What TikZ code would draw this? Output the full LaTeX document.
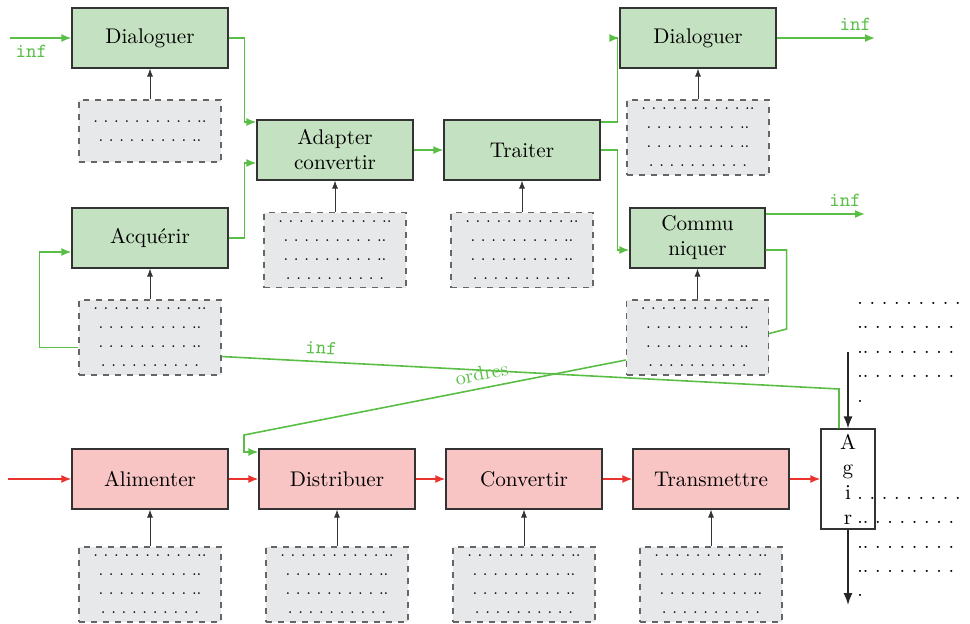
\documentclass[tikz,border=0pt]{standalone}
\usetikzlibrary{arrows.meta,calc}

\definecolor{vertfond}{RGB}{196,226,193}
\definecolor{vertfil}{RGB}{90,190,70}
\definecolor{rougefond}{RGB}{248,196,196}
\definecolor{rougefil}{RGB}{235,50,45}
\definecolor{grisfond}{RGB}{231,232,234}

\newcommand{\pointsdeux}{. . . . . . . . . . ..\\ . . . . . . . . . ..}
\newcommand{\pointsquatre}{. . . . . . . . . . ..\\ . . . . . . . . . ..\\ . . . . . . . . . ..\\ . . . . . . . . . .}

\begin{document}
\begin{tikzpicture}[x=0.5pt,y=-0.5pt,
  bloc/.style={draw=black!80,semithick,minimum width=78pt,minimum height=30pt,align=center,inner sep=1pt,
    font=\fontsize{10.6}{12.5}\selectfont},
  info/.style={bloc,fill=vertfond},
  energie/.style={bloc,fill=rougefond},
  support/.style={draw=black!60,dashed,semithick,fill=grisfond,minimum width=71pt,minimum height=37.5pt,
    font=\footnotesize\frenchspacing,align=center,inner sep=0pt},
  finfo/.style={vertfil,thick,-{Latex[length=5pt,width=4pt]}},
  fenergie/.style={rougefil,thick,-{Latex[length=5pt,width=4pt]}},
  fsupport/.style={black!80,-{Latex[length=4pt,width=3pt]}},
  lbl/.style={vertfil,font=\ttfamily}]
\useasboundingbox (0,0) rectangle (970,623);

% chaine d'information
\node[info] (dial1) at (150,38) {Dialoguer};
\node[info] (acq) at (150,238) {Acquérir};
\node[info] (adapt) at (335,150) {Adapter\\convertir};
\node[info] (trait) at (522,150) {Traiter};
\node[info] (dial2) at (698,38) {Dialoguer};
\node[info,minimum width=67.5pt] (comm) at (697.5,238) {Commu\\niquer};

% chaine d'energie
\node[energie] (alim) at (150,479) {Alimenter};
\node[energie] (dist) at (337,479) {Distribuer};
\node[energie] (conv) at (524,479) {Convertir};
\node[energie] (trans) at (711,479) {Transmettre};
\node[bloc,fill=white,minimum width=27pt,minimum height=50pt] (agir) at (848,479) {A\\g\\i\\r};

% supports
\node[support,minimum height=31pt] (dial1-sup) at (150,131) {\pointsdeux};
\node[support] (acq-sup) at (150,337.5) {\pointsquatre};
\node[support] (adapt-sup) at (335,250) {\pointsquatre};
\node[support] (trait-sup) at (522,250) {\pointsquatre};
\node[support] (dial2-sup) at (698,137.5) {\pointsquatre};
\node[support] (comm-sup) at (697.5,337.5) {\pointsquatre};
\node[support] (alim-sup) at (150,584.5) {\pointsquatre};
\node[support] (dist-sup) at (337,584.5) {\pointsquatre};
\node[support] (conv-sup) at (524,584.5) {\pointsquatre};
\node[support] (trans-sup) at (711,584.5) {\pointsquatre};

\foreach \b in {dial1,acq,adapt,trait,dial2,comm,alim,dist,conv,trans}
  \draw[fsupport] (\b-sup) -- (\b);

% liaisons information
\coordinate (e-inf) at (10,38);
\coordinate (s-dial2) at (875,38);
\coordinate (s-comm) at (865,214);
\coordinate (c-agir) at (839,389);
\coordinate (c-dist) at (244,435);
\draw[finfo] (e-inf) -- node[lbl,below,pos=0.35] {inf} (dial1.west);
\draw[finfo] (dial1.east) -- ++(16,0) |- ($(adapt.west)+(0,-28)$);
\draw[finfo] (acq.east) -- ++(16,0) |- ($(adapt.west)+(0,13)$);
\draw[finfo] (adapt) -- (trait);
\draw[finfo] ($(trait.east)+(0,-28)$) -- ++(17,0) |- (dial2.west);
\draw[finfo] (trait.east) -- ++(17,0) |- ($(comm.west)+(0,12)$);
\draw[finfo] (dial2.east) -- node[lbl,above,pos=0.8] {inf} (s-dial2);
\draw[finfo] ($(comm.east)+(0,-24)$) -- node[lbl,above,pos=0.8] {inf} (s-comm);
\draw[finfo,-] ($(comm.east)+(0,12)$) -- ++(21,0) -- ++(0,79) -- ($(comm-sup.east)+(0,-4)$);
\draw[finfo] ($(acq-sup.west)+(0,10)$) -- ++(-39,0) |- ($(acq.west)+(0,14)$);
\draw[finfo,-] ($(acq-sup.east)+(0,19)$) -- node[lbl,sloped,above,pos=0.16] {inf} (c-agir) -- (c-agir |- agir.north);
\draw[finfo] ($(comm-sup.west)+(0,22.5)$) -- node[sloped,above,pos=0.37,text=vertfil] {ordres} (c-dist) |- ($(dist.west)+(0,-27)$);

% liaisons energie
\coordinate (e-energie) at (8,479);
\draw[fenergie] (e-energie) -- (alim);
\draw[fenergie] (alim) -- (dist);
\draw[fenergie] (dist) -- (conv);
\draw[fenergie] (conv) -- (trans);
\draw[fenergie] (trans) -- (agir);

% matiere d'oeuvre
\coordinate (h-agir) at (848,352);
\coordinate (b-agir) at (848,605);
\draw[black!85,thick,-{Latex[length=6pt,width=4.5pt]}] (h-agir) -- (agir);
\draw[black!85,thick,-{Latex[length=6pt,width=4.5pt]}] (agir) -- (b-agir);

\foreach \y/\t [count=\i] in {304/{. . . . . . . . .},
    328/{.. . . . . . . .},
    353/{.. . . . . . . .},
    377/{.. . . . . . . .},
    402/{.},
    499/{. . . . . . . . .},
    523/{.. . . . . . . .},
    548/{.. . . . . . . .},
    572/{.. . . . . . . .},
    596/{.}}
  \node[anchor=base west,inner sep=0pt,font=\frenchspacing] (txt\i) at (857,\y) {\t};
\end{tikzpicture}
\end{document}
